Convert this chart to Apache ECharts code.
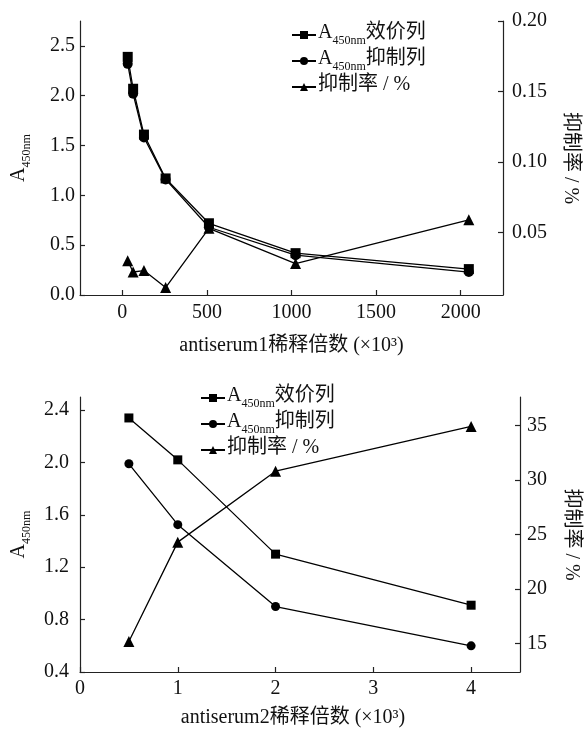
<!DOCTYPE html>
<html><head><meta charset="utf-8">
<script src="https://cdn.jsdelivr.net/npm/echarts@6/dist/echarts.min.js"></script>
<style>html,body{margin:0;padding:0;background:#fff}#c{width:584px;height:733px}</style>
</head><body><div id="c"></div><script>
// ---- data ----
const dil1 = [32, 64, 128, 256, 512, 1024, 2048];
const titer1 = [2.39, 2.07, 1.61, 1.17, 0.72, 0.42, 0.26];
const inhib1 = [2.32, 2.02, 1.58, 1.16, 0.68, 0.40, 0.23];
const rate1 = [0.030, 0.022, 0.023, 0.011, 0.053, 0.028, 0.059];
const dil2 = [0.5, 1, 2, 4];
const titer2 = [2.34, 2.02, 1.30, 0.91];
const inhib2 = [1.99, 1.525, 0.90, 0.60];
const rate2 = [15.2, 24.3, 30.8, 34.9];
const xTicks1 = [0, 500, 1000, 1500, 2000];
const yTicks1 = [0, 0.5, 1.0, 1.5, 2.0, 2.5];
const rTicks1 = [0.05, 0.10, 0.15, 0.20];
const xTicks2 = [0, 1, 2, 3, 4];
const yTicks2 = [0.4, 0.8, 1.2, 1.6, 2.0, 2.4];
const rTicks2 = [15, 20, 25, 30, 35];
const xName1 = 'antiserum1稀释倍数 (×10³)';
const xName2 = 'antiserum2稀释倍数 (×10³)';
const rName = '抑制率 / %';

const FONT = "'Liberation Serif', 'Noto Sans CJK SC', serif";
const INK = '#111';
const rich = {
  a: {fontFamily: FONT, fontSize: 20, color: INK, lineHeight: 24, verticalAlign: 'top'},
  s: {fontFamily: FONT, fontSize: 12, color: INK, lineHeight: 12, verticalAlign: 'bottom'}
};
const aName = '{a|A}{s|450nm}';
const legendText = {
  titer1: '{a|A}{s|450nm}{a|效价列}', inhib1: '{a|A}{s|450nm}{a|抑制列}', rate1: '{a|抑制率 / %}',
  titer2: '{a|A}{s|450nm}{a|效价列}', inhib2: '{a|A}{s|450nm}{a|抑制列}', rate2: '{a|抑制率 / %}'
};

function zip(x, y) { return x.map((v, i) => [v, y[i]]); }

const axLine = {show: true, onZero: false, lineStyle: {color: '#222', width: 1.2}};
function tick(vals) { return {show: true, inside: true, length: 5, customValues: vals, lineStyle: {color: '#222', width: 1.2}}; }
function lab(vals, dec, margin) {
  return {show: true, customValues: vals, margin: margin, fontFamily: FONT, fontSize: 20, color: INK,
    formatter: v => dec == null ? String(v) : Number(v).toFixed(dec)};
}

function line(name, x, y, xi, yi, sym, size) {
  return {
    name: name, type: 'line', xAxisIndex: xi, yAxisIndex: yi, data: zip(x, y),
    symbol: sym, symbolSize: size, showSymbol: true,
    itemStyle: {color: '#000'}, lineStyle: {color: '#000', width: 1.3}, z: 3, animation: false
  };
}

const option = {
  backgroundColor: '#fff',
  animation: false,
  grid: [
    {left: 80, right: 81, top: 21, bottom: 438, containLabel: false, outerBoundsMode: 'none'},
    {left: 80, right: 64, top: 397, bottom: 61, containLabel: false, outerBoundsMode: 'none'}
  ],
  legend: [
    {data: ['titer1', 'inhib1', 'rate1'], orient: 'vertical', left: 286, top: 18, itemGap: 2,
     itemWidth: 24, itemHeight: 10, formatter: n => legendText[n], textStyle: {rich: rich, padding: [0,0,0,-3]},
     selectedMode: false},
    {data: ['titer2', 'inhib2', 'rate2'], orient: 'vertical', left: 195, top: 381, itemGap: 2,
     itemWidth: 24, itemHeight: 10, formatter: n => legendText[n], textStyle: {rich: rich, padding: [0,0,0,-3]},
     selectedMode: false}
  ],
  xAxis: [
    {type: 'value', gridIndex: 0, min: -250, max: 2250, axisLine: axLine, axisTick: tick(xTicks1),
     axisLabel: lab(xTicks1, null, 8), splitLine: {show: false},
     name: xName1, nameLocation: 'middle', nameGap: 41,
     nameTextStyle: {fontFamily: FONT, fontSize: 20, color: INK}},
    {type: 'value', gridIndex: 1, min: 0, max: 4.5, axisLine: axLine, axisTick: tick(xTicks2),
     axisLabel: lab(xTicks2, null, 7), splitLine: {show: false},
     name: xName2, nameLocation: 'middle', nameGap: 36,
     nameTextStyle: {fontFamily: FONT, fontSize: 20, color: INK, padding: [0, 14, 0, 0]}}
  ],
  yAxis: [
    {type: 'value', gridIndex: 0, position: 'left', min: 0, max: 2.75, axisLine: axLine, axisTick: tick(yTicks1),
     axisLabel: lab(yTicks1, 1, 5), splitLine: {show: false},
     name: aName, nameLocation: 'middle', nameGap: 47, nameTextStyle: {rich: rich}},
    {type: 'value', gridIndex: 0, position: 'right', min: 0.0057, max: 0.2, axisLine: axLine, axisTick: tick(rTicks1),
     axisLabel: lab(rTicks1, 2, 9), splitLine: {show: false},
     name: rName, nameLocation: 'middle', nameGap: 57, nameRotate: -90,
     nameTextStyle: {fontFamily: FONT, fontSize: 20, color: INK}},
    {type: 'value', gridIndex: 1, position: 'left', min: 0.4, max: 2.5, axisLine: axLine, axisTick: tick(yTicks2),
     axisLabel: lab(yTicks2, 1, 11), splitLine: {show: false},
     name: aName, nameLocation: 'middle', nameGap: 47, nameTextStyle: {rich: rich}},
    {type: 'value', gridIndex: 1, position: 'right', min: 12.4, max: 37.6, axisLine: axLine, axisTick: tick(rTicks2),
     axisLabel: lab(rTicks2, null, 7), splitLine: {show: false},
     name: rName, nameLocation: 'middle', nameGap: 41, nameRotate: -90,
     nameTextStyle: {fontFamily: FONT, fontSize: 20, color: INK}}
  ],
  series: [
    line('titer1', dil1, titer1, 0, 0, 'rect', 10),
    line('inhib1', dil1, inhib1, 0, 0, 'circle', 10),
    line('rate1', dil1, rate1, 0, 1, 'triangle', 11),
    line('titer2', dil2, titer2, 1, 2, 'rect', 9),
    line('inhib2', dil2, inhib2, 1, 2, 'circle', 9),
    line('rate2', dil2, rate2, 1, 3, 'triangle', 11)
  ]
};
const chart = echarts.init(document.getElementById('c'), null, {renderer: 'canvas'});
chart.setOption(option);
</script></body></html>
